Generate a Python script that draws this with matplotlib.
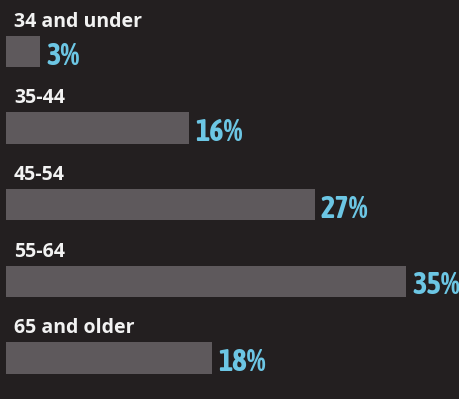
import matplotlib
matplotlib.use("Agg")
import matplotlib.pyplot as plt

# age groups and share of respondents (%)
age_groups = ["34 and under", "35-44", "45-54", "55-64", "65 and older"]
shares = [3, 16, 27, 35, 18]

BG = "#231f20"
BAR = "#5e595c"
BLUE = "#6cc6e4"

label_fonts = ["Open Sans", "DejaVu Sans"]
pct_fonts = ["Asap Condensed", "PT Sans Narrow", "Liberation Sans Narrow", "DejaVu Sans"]

fig = plt.figure(figsize=(4.6, 3.99), dpi=100, facecolor=BG)
ax = fig.add_axes([0, 0, 1, 1], facecolor=BG)

px = 400 / 35.0          # pixels per percent
step = 76.6              # pixels between bars
ys = range(len(age_groups))

ax.barh(list(ys), shares, height=0.41, left=0, color=BAR)

for i, (lab, v) in enumerate(zip(age_groups, shares)):
    ax.text(8 / px, i - 0.205 - 9 / step, lab, color="#f2f2f2",
            fontsize=14, fontweight="bold", family=label_fonts,
            va="baseline", ha="left")
    ax.text(v + 6 / px, i + 0.17, f"{v}%", color=BLUE,
            fontsize=22, fontweight="bold", family=pct_fonts,
            va="baseline", ha="left")

ax.set_xlim(-6 / px, 454 / px)
ax.set_ylim(4.536, -0.672)
ax.axis("off")

fig.savefig("out.png", dpi=100, facecolor=BG)
